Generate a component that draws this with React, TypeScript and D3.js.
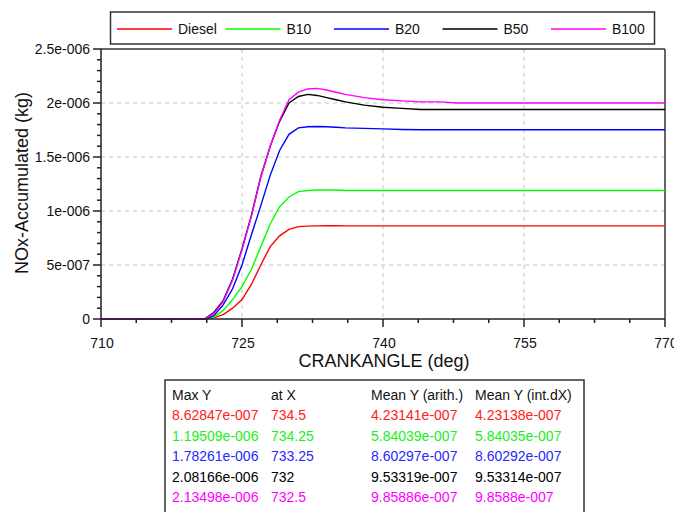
import React from 'react';
import * as d3 from 'd3';

// crank angle grid (deg) shared by every series
const crankAngle = [710, 721, 722, 723, 724, 725, 726, 727, 728, 729, 730, 731, 732, 733, 734, 735, 736, 738, 740, 742, 744, 746, 748, 770];

// accumulated NOx, in units of 1e-6 kg
const diesel = [0, 0, 0.01, 0.04, 0.1, 0.18, 0.32, 0.5, 0.67, 0.77, 0.83, 0.855, 0.86, 0.862, 0.863, 0.863, 0.862, 0.862, 0.862, 0.862, 0.862, 0.862, 0.862, 0.862];
const b10 = [0, 0, 0.015, 0.08, 0.18, 0.3, 0.46, 0.67, 0.88, 1.04, 1.13, 1.18, 1.19, 1.194, 1.195, 1.194, 1.19, 1.19, 1.19, 1.19, 1.19, 1.19, 1.19, 1.19];
const b20 = [0, 0, 0.03, 0.13, 0.28, 0.5, 0.78, 1.05, 1.33, 1.56, 1.71, 1.77, 1.78, 1.782, 1.78, 1.775, 1.77, 1.765, 1.76, 1.755, 1.753, 1.752, 1.752, 1.752];
const b50 = [0, 0, 0.06, 0.17, 0.37, 0.65, 0.96, 1.32, 1.6, 1.83, 2.0, 2.06, 2.08, 2.07, 2.05, 2.03, 2.01, 1.98, 1.96, 1.95, 1.94, 1.94, 1.94, 1.94];
const b100 = [0, 0, 0.05, 0.16, 0.36, 0.64, 0.95, 1.31, 1.6, 1.84, 2.03, 2.1, 2.13, 2.135, 2.12, 2.1, 2.08, 2.05, 2.03, 2.02, 2.01, 2.01, 2.0, 2.0];

const seriesNames = ['Diesel', 'B10', 'B20', 'B50', 'B100'];
const seriesValues = [diesel, b10, b20, b50, b100];
const seriesColors = ['#ff0000', '#00ff00', '#0000ff', '#000000', '#ff00ff'];
const textColors = ['#ff2020', '#20f020', '#2828ff', '#000000', '#ff00ff'];

const xTicks = [710, 725, 740, 755, 770];
const yTicks = [0, 5e-7, 1e-6, 1.5e-6, 2e-6, 2.5e-6];
const yTickLabels = ['0', '5e-007', '1e-006', '1.5e-006', '2e-006', '2.5e-006'];

const tableHeader = ['Max Y', 'at X', 'Mean Y (arith.)', 'Mean Y (int.dX)'];
const maxY = ['8.62847e-007', '1.19509e-006', '1.78261e-006', '2.08166e-006', '2.13498e-006'];
const atX = ['734.5', '734.25', '733.25', '732', '732.5'];
const meanArith = ['4.23141e-007', '5.84039e-007', '8.60297e-007', '9.53319e-007', '9.85886e-007'];
const meanIntDx = ['4.23138e-007', '5.84035e-007', '8.60292e-007', '9.53314e-007', '9.8588e-007'];

const W = 674;
const H = 512;
const m = { left: 101, right: 665, top: 49, bottom: 319 };
const font = '"Liberation Sans", Arial, sans-serif';

export default function App() {
	const x = d3.scaleLinear().domain([710, 770]).range([m.left, m.right]);
	const y = d3.scaleLinear().domain([0, 2.5e-6]).range([m.bottom, m.top]);

	const line = d3
		.line<number>()
		.x((d, i) => x(crankAngle[i]))
		.y(d => y(d * 1e-6));

	const xMinor = d3.range(710, 770.01, 3.75).filter(v => !xTicks.includes(v));
	const yMinor = d3.range(0, 26).map(i => i * 1e-7).filter((v, i) => i % 5 !== 0);

	const legendX = d3.scaleLinear().domain([0, 4]).range([117, 551]);
	const tableCols = [172, 271, 371, 475];
	const rowY = d3.scaleLinear().domain([0, 5]).range([400, 502]);

	return (
		<svg width={W} height={H} style={{ position: 'absolute', left: 0, top: 0, fontFamily: font }}>
			<rect width={W} height={H} fill="#fff" />

			{/* grid */}
			{xTicks.slice(1, -1).map(v => (
				<line key={'gx' + v} x1={x(v)} x2={x(v)} y1={m.top} y2={m.bottom} stroke="#c4c4c4" strokeDasharray="4,4" />
			))}
			{yTicks.slice(1, -1).map(v => (
				<line key={'gy' + v} x1={m.left} x2={m.right} y1={y(v)} y2={y(v)} stroke="#c4c4c4" strokeDasharray="4,4" />
			))}

			{/* frame */}
			<line x1={m.left} x2={m.right} y1={m.top} y2={m.top} stroke="#333" strokeWidth={1.5} />
			<line x1={m.right} x2={m.right} y1={m.top} y2={m.bottom} stroke="#333" strokeWidth={1.5} />

			{/* curves */}
			{seriesValues.map((vals, i) => (
				<path key={seriesNames[i]} d={line(vals) || ''} fill="none" stroke={seriesColors[i]} strokeWidth={1.4} />
			))}

			{/* axes */}
			<line x1={m.left} x2={m.left} y1={m.top} y2={m.bottom} stroke="#222" strokeWidth={1.5} />
			<line x1={m.left} x2={m.right} y1={m.bottom} y2={m.bottom} stroke="#222" strokeWidth={1.5} />
			{yTicks.map((v, i) => (
				<g key={'yt' + v}>
					<line x1={m.left - 8} x2={m.left} y1={y(v)} y2={y(v)} stroke="#222" strokeWidth={1.5} />
					<text x={m.left - 11} y={y(v)} dy="0.35em" textAnchor="end" fontSize={14} fill="#111">
						{yTickLabels[i]}
					</text>
				</g>
			))}
			{yMinor.map(v => (
				<line key={'ym' + v} x1={m.left - 4} x2={m.left} y1={y(v)} y2={y(v)} stroke="#222" strokeWidth={1.5} />
			))}
			{xTicks.map(v => (
				<g key={'xt' + v}>
					<line x1={x(v)} x2={x(v)} y1={m.bottom} y2={m.bottom + 8} stroke="#222" strokeWidth={1.5} />
					<text x={x(v) + 1} y={347.5} textAnchor="middle" fontSize={14} fill="#111">
						{v}
					</text>
				</g>
			))}
			{xMinor.map(v => (
				<line key={'xm' + v} x1={x(v)} x2={x(v)} y1={m.bottom} y2={m.bottom + 4} stroke="#222" strokeWidth={1.5} />
			))}

			<text x={384} y={367} textAnchor="middle" fontSize={18} fill="#111">
				CRANKANGLE (deg)
			</text>
			<text transform="translate(28,183) rotate(-90)" textAnchor="middle" fontSize={18} fill="#111">
				NOx-Accumulated (kg)
			</text>

			{/* legend */}
			<rect x={110.5} y={12} width={544} height={32} fill="#fff" stroke="#333" strokeWidth={1.5} />
			{seriesNames.map((name, i) => (
				<g key={'lg' + name}>
					<line x1={legendX(i)} x2={legendX(i) + 55} y1={29} y2={29} stroke={seriesColors[i]} strokeWidth={1.4} />
					<text x={legendX(i) + 61} y={29} dy="0.35em" fontSize={14} fill="#111">
						{name}
					</text>
				</g>
			))}

			{/* statistics table */}
			<rect x={165} y={380} width={419} height={150} fill="#fff" stroke="#333" strokeWidth={1.5} />
			{tableHeader.map((h, j) => (
				<text key={'th' + j} x={tableCols[j]} y={rowY(0)} fontSize={14} fill="#111">
					{h}
				</text>
			))}
			{seriesNames.map((name, i) =>
				[maxY[i], atX[i], meanArith[i], meanIntDx[i]].map((t, j) => (
					<text key={name + j} x={tableCols[j]} y={rowY(i + 1)} fontSize={14} fill={textColors[i]}>
						{t}
					</text>
				))
			)}
		</svg>
	);
}
